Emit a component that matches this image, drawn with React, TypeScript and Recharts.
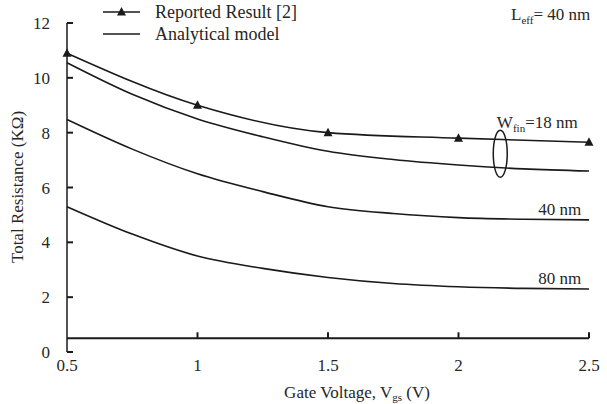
import { LineChart, Line, XAxis, YAxis, ReferenceDot, ReferenceLine, Legend } from "recharts"

// gate voltage grid (V) used by the analytical model curves
const voltages = [0.5, 0.75, 1.0, 1.25, 1.5, 1.75, 2.0, 2.25, 2.5]
const model18 = [10.55, 9.4, 8.5, 7.85, 7.32, 7.02, 6.82, 6.68, 6.6]
const model40 = [8.48, 7.4, 6.5, 5.85, 5.3, 5.05, 4.9, 4.84, 4.82]
const model80 = [5.3, 4.3, 3.5, 3.05, 2.72, 2.5, 2.38, 2.32, 2.3]

// reported result [2], W_fin = 18 nm
const reportedV = [0.5, 1.0, 1.5, 2.0, 2.5]
const reportedR = [10.9, 9.0, 8.0, 7.8, 7.65]

const xTicks = [0.5, 1, 1.5, 2, 2.5]
const yTicks = [0, 2, 4, 6, 8, 10, 12]
const xAxisCross = 0.5 // horizontal axis crosses the vertical one at R = 0.5

const rows = voltages.map((v, i) => ({ v, w18: model18[i], w40: model40[i], w80: model80[i], r: null as number | null }))
reportedV.forEach((v, i) => {
  const row = rows.find((d) => d.v === v)
  if (row) row.r = reportedR[i]
})

const FONT = "Liberation Serif"
const INK = "#1a1a1a"
const TXT = "#262626"
const serif = (size: number) => ({ fontFamily: FONT, fontSize: size })

function Triangle({ cx, cy }: { cx: number; cy: number }) {
  return <polygon points={`${cx},${cy - 5} ${cx - 4.5},${cy + 3.5} ${cx + 4.5},${cy + 3.5}`} fill={INK} />
}

function XTick({ x, y, payload }: any) {
  return (
    <text x={x} y={y + 19} textAnchor="middle" fill={TXT} style={serif(17)}>
      {payload.value}
    </text>
  )
}

function YTick({ x, y, payload }: any) {
  return (
    <g>
      <line x1={x} x2={x + 6} y1={y} y2={y} stroke="#1a1a1a" strokeWidth={2} />
      <text x={x - 17} y={y + 6} textAnchor="end" fill={TXT} style={serif(17)}>
        {payload.value}
      </text>
    </g>
  )
}

function LegendBox() {
  return (
    <svg width={240} height={48} style={{ display: "block" }}>
      <line x1={3} x2={40} y1={12} y2={12} stroke={INK} strokeWidth={1.5} />
      <Triangle cx={21.5} cy={12} />
      <text x={55} y={18} fill={TXT} style={serif(18)}>Reported Result [2]</text>
      <line x1={3} x2={40} y1={34} y2={34} stroke={INK} strokeWidth={1.5} />
      <text x={55} y={40} fill={TXT} style={serif(18)}>Analytical model</text>
    </svg>
  )
}

function textAt(label: React.ReactNode, anchor: "start" | "end") {
  return (p: any) => (
    <text x={p.cx} y={p.cy} textAnchor={anchor} fill={TXT} style={serif(17)}>
      {label}
    </text>
  )
}

const upTick = (p: any) => <line x1={p.cx} x2={p.cx} y1={p.cy} y2={p.cy - 6} stroke="#1a1a1a" strokeWidth={2} />

export default function App() {
  return (
    <div style={{ position: "absolute", left: 0, top: 0, width: 607, height: 404, background: "#fff" }}>
      <svg width={607} height={404} style={{ position: "absolute", left: 0, top: 0 }}>
        <text x={511} y={20} fill={TXT} style={serif(17)}>
          L<tspan fontSize={11} dy={4}>eff</tspan>
          <tspan dy={-4}>= 40 nm</tspan>
        </text>
        <text x={357} y={398} textAnchor="middle" fill={TXT} style={serif(17)}>
          Gate Voltage, V<tspan fontSize={11} dy={3}>gs</tspan>
          <tspan dy={-3}> (V)</tspan>
        </text>
        <text x={23} y={187} transform="rotate(-90 23 187)" textAnchor="middle" fill={TXT} style={serif(17)}>
          Total Resistance (KΩ)
        </text>
      </svg>
      <LineChart width={607} height={404} data={rows} margin={{ top: 23, right: 18, bottom: 22, left: 7 }}>
        <XAxis
          dataKey="v"
          type="number"
          domain={[0.5, 2.5]}
          ticks={xTicks}
          axisLine={false}
          tickLine={false}
          tickSize={0}
          tickMargin={0}
          height={30}
          tick={<XTick />}
        />
        <YAxis
          type="number"
          domain={[0, 12]}
          ticks={yTicks}
          width={60}
          axisLine={{ stroke: INK, strokeWidth: 1.5 }}
          tickLine={false}
          tickSize={0}
          tickMargin={0}
          tick={<YTick />}
        />
        {/* horizontal axis drawn at the crossing value */}
        <ReferenceLine y={xAxisCross} stroke="#1a1a1a" strokeWidth={2} />
        {xTicks.slice(1).map((t) => (
          <ReferenceDot key={t} x={t} y={xAxisCross} r={0} shape={upTick} />
        ))}
        <Line dataKey="w18" type="monotone" stroke={INK} strokeWidth={1.6} dot={false} isAnimationActive={false} />
        <Line dataKey="w40" type="monotone" stroke={INK} strokeWidth={1.6} dot={false} isAnimationActive={false} />
        <Line dataKey="w80" type="monotone" stroke={INK} strokeWidth={1.6} dot={false} isAnimationActive={false} />
        <Line
          dataKey="r"
          type="monotone"
          connectNulls
          stroke={INK}
          strokeWidth={1.6}
          dot={(p: any) => (p.value == null ? <g key={`tri-${p.index}`} /> : <Triangle key={`tri-${p.index}`} cx={p.cx} cy={p.cy} />)}
          isAnimationActive={false}
        />
        <ReferenceDot
          x={2.16}
          y={7.23}
          r={0}
          shape={(p: any) => <ellipse cx={p.cx} cy={p.cy} rx={7} ry={23.5} fill="none" stroke={INK} strokeWidth={1.5} />}
        />
        <ReferenceDot
          x={2.147}
          y={8.17}
          r={0}
          shape={textAt(
            <>
              W<tspan fontSize={11} dy={4}>fin</tspan>
              <tspan dy={-4}>=18 nm</tspan>
            </>,
            "start"
          )}
        />
        <ReferenceDot x={2.47} y={5.0} r={0} shape={textAt("40 nm", "end")} />
        <ReferenceDot x={2.47} y={2.48} r={0} shape={textAt("80 nm", "end")} />
        <Legend
          layout="vertical"
          align="center"
          verticalAlign="middle"
          wrapperStyle={{ top: 0, left: 100, width: 240, height: 48 }}
          content={<LegendBox />}
        />
      </LineChart>
    </div>
  )
}
